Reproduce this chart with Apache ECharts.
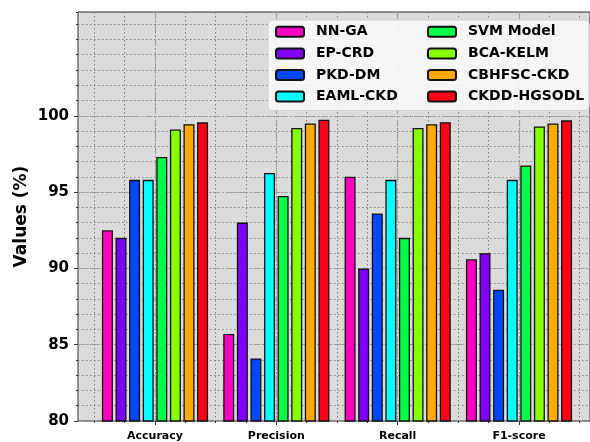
<!DOCTYPE html>
<html>
<head>
<meta charset="utf-8">
<script src="https://cdn.jsdelivr.net/npm/echarts@6/dist/echarts.min.js"></script>
<style>
html,body{margin:0;padding:0;background:#fff;}
#chart{width:590px;height:442px;}
</style>
</head>
<body>
<div id="chart"></div>
<script>
// ---- data ----
const categories = ['Accuracy', 'Precision', 'Recall', 'F1-score'];
const seriesNames = ['NN-GA', 'EP-CRD', 'PKD-DM', 'EAML-CKD', 'SVM Model', 'BCA-KELM', 'CBHFSC-CKD', 'CKDD-HGSODL'];
const nnGa = [92.5, 85.7, 96.0, 90.6];
const epCrd = [92.0, 93.0, 90.0, 91.0];
const pkdDm = [95.8, 84.1, 93.6, 88.6];
const eamlCkd = [95.8, 96.25, 95.8, 95.8];
const svmModel = [97.3, 94.75, 92.0, 96.75];
const bcaKelm = [99.1, 99.2, 99.2, 99.3];
const cbhfscCkd = [99.45, 99.5, 99.45, 99.5];
const ckddHgsodl = [99.57, 99.74, 99.58, 99.7];
const yTickLabels = [80, 85, 90, 95, 100];
const yMin = 80, yMax = 106.8;

const seriesValues = [nnGa, epCrd, pkdDm, eamlCkd, svmModel, bcaKelm, cbhfscCkd, ckddHgsodl];
const colors = ['#ff00c0', '#8000ff', '#0048ff', '#00ffff', '#00ff48', '#88ff00', '#ffaa00', '#ff0018'];

const FONT = 'DejaVu Sans';
const dotted = {color: '#808080', width: 1, type: [1.5, 2.5]};
const dashDot = {color: '#a0a0a0', width: 1.2, type: [7, 2.5, 1.5, 2.5]};

// layout
const gTop = 12, gBottom = 21, gLeft = 78, gWidth = 518;
const plotH = 442 - gTop - gBottom;
const y100 = gTop + plotH * (yMax - 100) / (yMax - yMin);
const c0 = 155, c3 = 519;
const band = (c3 - c0) / 3;

const chart = echarts.init(document.getElementById('chart'), null, {renderer: 'canvas'});

const option = {
  animation: false,
  backgroundColor: '#fff',
  grid: [
    {left: gLeft, top: gTop, bottom: gBottom, width: gWidth, show: true, backgroundColor: '#dcdcdc', borderColor: '#333', borderWidth: 1},
    {left: c0 - band / 2, right: 590 - (c3 + band / 2), top: gTop, bottom: gBottom},
    {left: gLeft, top: y100, bottom: gBottom, width: gWidth},
    {left: c0, right: 590 - c3, top: gTop, bottom: gBottom}
  ],
  xAxis: [
    {gridIndex: 0, type: 'value', min: 0, max: 1, show: false},
    {gridIndex: 1, type: 'category', data: categories,
      axisLine: {show: false}, axisTick: {show: false}, splitLine: {show: false},
      axisLabel: {fontFamily: FONT, fontWeight: 'bold', fontSize: 11, color: '#000', margin: 10}},
    {gridIndex: 1, type: 'value', min: -0.5, max: 3.5, interval: 0.25, position: 'bottom',
      axisLine: {show: false}, axisLabel: {show: false},
      axisTick: {show: true, length: 2, lineStyle: {color: '#333'}},
      splitLine: {show: true, lineStyle: dotted}},
    {gridIndex: 3, type: 'value', min: 0, max: 3, interval: 1, position: 'bottom',
      axisLine: {show: false}, axisLabel: {show: false},
      axisTick: {show: true, length: 4, lineStyle: {color: '#333'}},
      splitLine: {show: true, lineStyle: dashDot}},
    {gridIndex: 2, type: 'value', min: 0, max: 1, show: false}
  ],
  yAxis: [
    {gridIndex: 0, type: 'value', min: yMin, max: yMax, interval: 1,
      name: 'Values (%)', nameLocation: 'middle', nameGap: 48,
      nameTextStyle: {fontFamily: FONT, fontWeight: 'bold', fontSize: 17, color: '#000'},
      axisLine: {show: false}, axisLabel: {show: false},
      axisTick: {show: true, length: 2, lineStyle: {color: '#333'}},
      splitLine: {show: true, lineStyle: dotted}},
    {gridIndex: 1, type: 'value', min: yMin, max: yMax, show: false},
    {gridIndex: 2, type: 'value', min: yTickLabels[0], max: yTickLabels[yTickLabels.length - 1], interval: 5,
      axisLine: {show: false},
      axisTick: {show: true, length: 4, lineStyle: {color: '#333'}},
      axisLabel: {fontFamily: FONT, fontWeight: 'bold', fontSize: 15, color: '#000', margin: 9},
      splitLine: {show: true, lineStyle: dashDot}},
    {gridIndex: 3, type: 'value', min: yMin, max: yMax, show: false}
  ],
  legend: {
    data: [seriesNames[0], seriesNames[4], seriesNames[1], seriesNames[5], seriesNames[2], seriesNames[6], seriesNames[3], seriesNames[7]],
    orient: 'horizontal', left: 268, top: 20, width: 330,
    itemWidth: 28, itemHeight: 10, itemGap: 5,
    padding: [3.5, 5, 5.5, 7],
    textStyle: {fontFamily: FONT, fontWeight: 'bold', fontSize: 14, color: '#000', width: 106, lineHeight: 16.6, padding: [0, 0, 0, 7], overflow: 'none'},
    backgroundColor: 'rgba(247,247,247,0.92)', borderColor: '#cfcfcf', borderWidth: 1, borderRadius: 4
  },
  series: seriesNames.map((name, i) => ({
    name: name, type: 'bar', xAxisIndex: 1, yAxisIndex: 1,
    data: seriesValues[i],
    barWidth: 11, barGap: '23.6%',
    itemStyle: {color: colors[i], borderColor: '#111', borderWidth: 1.3}
  }))
};
chart.setOption(option);
</script>
</body>
</html>
